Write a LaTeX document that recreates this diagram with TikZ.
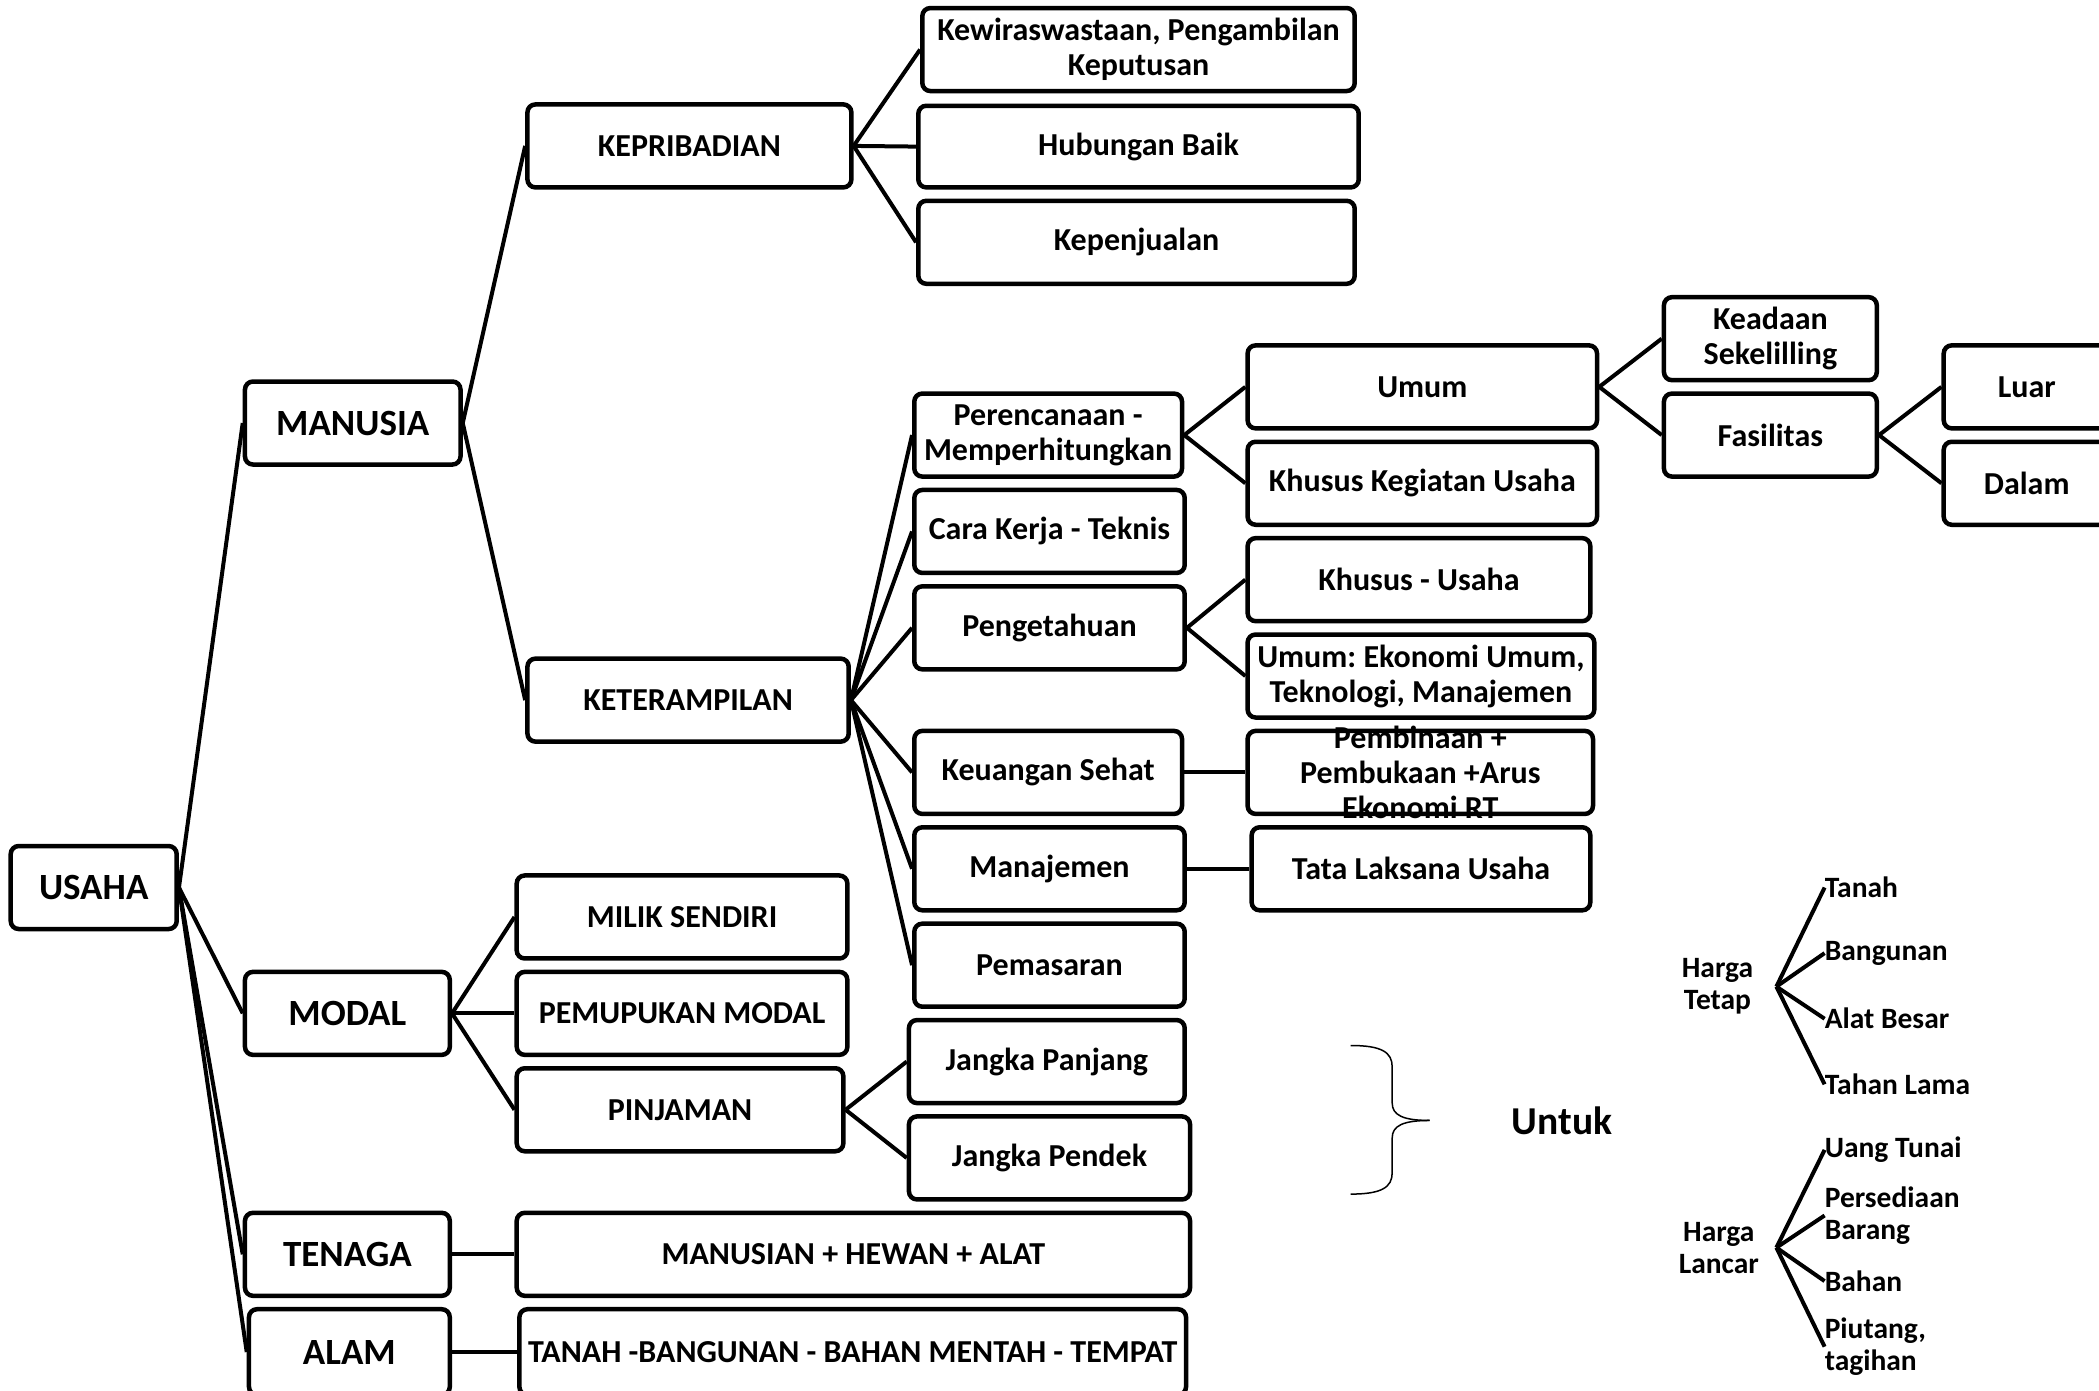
\documentclass[tikz,border=0pt]{standalone}
\usepackage{fontspec}
\setmainfont{Carlito}
\frenchspacing
\newcommand\bigfont{\bfseries\fontsize{37}{43}\selectfont}
\newcommand\boxfont{\bfseries\fontsize{32}{35}\selectfont}
\newcommand\smallfont{\bfseries\fontsize{29.5}{32}\selectfont}
\newcommand\untukfont{\bfseries\fontsize{39.5}{45}\selectfont}
\tikzset{
  box/.style={draw, line width=4.5pt, rounded corners=8pt, align=center, inner sep=0pt, font=\boxfont},
  bigbox/.style={box, font=\bigfont},
  conn/.style={line width=4pt},
  lbl/.style={inner sep=0pt, font=\smallfont, align=left},
}
% \mybox[opts]{name}{x1}{y1}{x2}{y2}{text}
\newcommand\mybox[7][]{\node[box,#1, minimum width={(#5-#3)*1.3387pt}, minimum height={(#6-#4)*1.3387pt}] (#2) at ({(#3+#5)/2},{(#4+#6)/2}) {#7};}
\begin{document}
\begin{tikzpicture}[x=1.3387pt, y=-1.3387pt]
\useasboundingbox (0,0) rectangle (1568,1039.07);
\clip (0,0) rectangle (1568,1039.07);
% level 0
\mybox[bigbox]{usaha}{8}{632}{132}{694}{USAHA}
% level 1
\mybox[bigbox]{manusia}{183}{285}{344}{347}{MANUSIA}
\mybox[bigbox]{modal}{183}{726}{336}{788}{MODAL}
\mybox[bigbox]{tenaga}{183}{906}{336}{968}{TENAGA}
\mybox[bigbox]{alam}{186}{978}{336}{1042}{ALAM}
% manusia children
\mybox{kepri}{394}{78}{636}{140}{KEPRIBADIAN}
\mybox{keter}{394}{492}{634}{554}{KETERAMPILAN}
% kepribadian children
\mybox{kew}{689}{6}{1012}{68}{Kewiraswastaan, Pengambilan\\Keputusan}
\mybox{hub}{686}{79}{1015}{140}{Hubungan Baik}
\mybox{kepj}{686}{150}{1012}{212}{Kepenjualan}
% keterampilan children
\mybox{per}{683}{294}{883}{356}{Perencanaan -\\Memperhitungkan}
\mybox{cara}{683}{366}{885}{428}{Cara Kerja - Teknis}
\mybox{peng}{683}{438}{885}{500}{Pengetahuan}
\mybox{keu}{683}{546}{883}{608}{Keuangan Sehat}
\mybox{man}{683}{618}{885}{680}{Manajemen}
\mybox{pem}{683}{690}{885}{752}{Pemasaran}
% level 4
\mybox{umum}{932}{258}{1193}{320}{Umum}
\mybox{kku}{932}{330}{1193}{392}{Khusus Kegiatan Usaha}
\mybox{ksu}{932}{402}{1188}{464}{Khusus - Usaha}
\mybox{ueu}{932}{474}{1191}{536}{Umum: Ekonomi Umum,\\Teknologi, Manajemen}
\mybox{pbn}{932}{546}{1190}{608}{}
\node[inner sep=0pt, align=center, font=\boxfont] (pbntext) at (pbn.center) {Pembinaan +\\Pembukaan +Arus\\Ekonomi RT};
\mybox{tls}{935}{618}{1188}{680}{Tata Laksana Usaha}
% level 5
\mybox{kea}{1243}{222}{1402}{284}{Keadaan\\Sekelilling}
\mybox{fas}{1243}{294}{1402}{356}{Fasilitas}
% level 6
\mybox{luar}{1452}{258}{1576}{320}{Luar}
\mybox{dalam}{1452}{330}{1576}{392}{Dalam}
% modal children
\mybox{milik}{386}{654}{633}{716}{MILIK SENDIRI}
\mybox{pemu}{386}{726}{633}{788}{PEMUPUKAN MODAL}
\mybox{pinj}{386}{798}{630}{860}{PINJAMAN}
\mybox{jpj}{679}{762}{885}{824}{Jangka Panjang}
\mybox{jpd}{679}{834}{889}{896}{Jangka Pendek}
% tenaga / alam
\mybox{mha}{386}{906}{889}{968}{MANUSIAN + HEWAN + ALAT}
\mybox{tbb}{388}{978}{886}{1042}{TANAH -BANGUNAN - BAHAN MENTAH - TEMPAT}
% connectors
\foreach \a/\b in {usaha/manusia, usaha/modal, usaha/tenaga, usaha/alam,
  manusia/kepri, manusia/keter,
  kepri/kew, kepri/hub, kepri/kepj,
  keter/per, keter/cara, keter/peng, keter/keu, keter/man, keter/pem,
  per/umum, per/kku, peng/ksu, peng/ueu, keu/pbn, man/tls,
  umum/kea, umum/fas, fas/luar, fas/dalam,
  modal/milik, modal/pemu, modal/pinj, pinj/jpj, pinj/jpd,
  tenaga/mha, alam/tbb}
  \draw[conn] (\a.east) -- (\b.west);
% brace and Untuk
\coordinate (brtop) at (1009,781);
\coordinate (brbot) at (1009,892);
\coordinate (brtip) at (1068,837);
\draw[line width=1.5pt] (brtop) .. controls (1032,781) and (1040,786) .. (1040,797)
  -- (1040,824) .. controls (1040,833) and (1048,837) .. (brtip);
\draw[line width=1.5pt] (brbot) .. controls (1032,892) and (1040,887) .. (1040,876)
  -- (1040,850) .. controls (1040,841) and (1048,837) .. (brtip);
\node[inner sep=0pt, font=\untukfont] (untuk) at (1167,837) {Untuk};
% Harga Tetap
\node[inner sep=0pt, font=\smallfont, align=center] (htetap) at (1283,737) {Harga\\Tetap};
\coordinate (ft) at (1327,737);
\node[lbl, anchor=west] (tanah) at (1363,663) {Tanah};
\node[lbl, anchor=west] (bangunan) at (1363,712) {Bangunan};
\node[lbl, anchor=west] (alat) at (1363,761) {Alat Besar};
\node[lbl, anchor=west] (tahan) at (1363,810) {Tahan Lama};
\foreach \n in {tanah, bangunan, alat, tahan} \draw[conn] (ft) -- (\n.west);
% Harga Lancar
\node[inner sep=0pt, font=\smallfont, align=center] (hlancar) at (1284,932) {Harga\\Lancar};
\coordinate (fl) at (1327,932);
\node[lbl, anchor=west] (uang) at (1363,859) {Uang Tunai};
\node[lbl, anchor=west] (persed) at (1363,908) {Persediaan\\Barang};
\node[lbl, anchor=west] (bahan) at (1363,957) {Bahan};
\node[lbl, anchor=west] (piutang) at (1363,1006) {Piutang,\\tagihan};
\foreach \n in {uang, persed, bahan, piutang} \draw[conn] (fl) -- (\n.west);
\end{tikzpicture}
\end{document}
